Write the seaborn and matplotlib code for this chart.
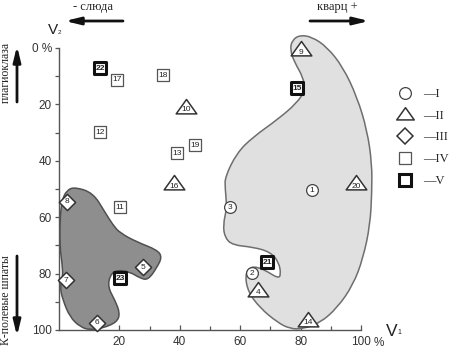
import numpy as np
import pandas as pd
import matplotlib
matplotlib.use("Agg")
import matplotlib.pyplot as plt
import seaborn as sns
from matplotlib.path import Path
from matplotlib.patches import PathPatch
from matplotlib.lines import Line2D

# ---- data ----
point_ids = [1, 2, 3, 4, 5, 6, 7, 8, 9, 10, 11, 12, 13, 14, 15, 16, 17, 18, 19, 20, 21, 22, 23]
v1_values = [83.8, 63.9, 56.6, 65.9, 27.9, 12.5, 2.3, 2.6, 80.0, 42.0, 20.2, 13.6, 39.0, 82.5,
             78.8, 38.0, 19.2, 34.4, 45.0, 98.3, 68.9, 13.6, 20.2]
v2_values = [50.4, 79.8, 56.4, 85.8, 77.7, 97.5, 82.3, 54.6, 0.5, 21.0, 56.4, 29.8, 37.4, 96.5,
             14.2, 48.0, 11.3, 9.6, 34.4, 48.0, 75.9, 7.1, 81.6]
groups = ["I", "I", "I", "II", "III", "III", "III", "III", "II", "II", "IV", "IV", "IV", "II",
          "V", "II", "IV", "IV", "IV", "II", "V", "V", "V"]
group_order = ["I", "II", "III", "IV", "V"]
legend_labels = ["—I", "—II", "—III", "—IV", "—V"]

# outlines of the two fields (V1, V2 in %)
dark_field_v1 = [5.3, 11.3, 15.2, 17.9, 20.2, 25.8, 32.5, 34.1, 32.5, 29.5, 26.8, 23.5, 19.2, 16.9,
                 16.2, 18.5, 20.2, 19.2, 14.6, 10.3, 7.0, 3.6, 1.3, 0.3, 1.3, 1.0, 0.3, 0.3, 1.0, 2.6]
dark_field_v2 = [49.3, 51.4, 58.2, 62.8, 65.6, 68.8, 71.6, 74.1, 77.7, 82.3, 81.6, 79.4, 78.7, 80.5,
                 84.8, 89.4, 94.0, 97.2, 99.3, 100.0, 98.9, 95.4, 89.4, 84.8, 81.2, 76.2, 70.6, 61.0, 53.9, 50.4]
light_field_v1 = [79.8, 83.8, 88.7, 94.0, 98.7, 102.0, 103.6, 103.6, 103.0, 100.7, 97.4, 92.1, 86.4,
                  80.8, 76.5, 72.2, 66.6, 62.6, 61.6, 63.2, 65.9, 69.2, 72.5, 73.5, 72.8, 69.9, 64.2,
                  57.6, 55.0, 54.3, 55.6, 55.0, 55.0, 58.9, 64.2, 72.2, 78.8, 81.5, 80.8, 78.1, 76.5, 77.2]
light_field_v2 = [-4.6, -3.9, -0.4, 6.7, 17.4, 29.1, 40.8, 51.1, 62.8, 74.5, 84.0, 92.2, 97.5,
                  99.6, 99.6, 97.2, 92.2, 86.5, 80.5, 77.7, 77.7, 79.4, 81.6, 80.5, 75.9, 72.3, 70.6,
                  69.9, 67.4, 62.8, 56.7, 49.6, 45.7, 37.2, 31.6, 25.5, 19.5, 14.9, 10.3, 5.3, 0.7, -2.8]

x_ticks = [20, 40, 60, 80, 100]
x_tick_labels = ["20", "40", "60", "80", "100"]
y_ticks = [0, 20, 40, 60, 80, 100]
y_tick_labels = ["0 %", "20", "40", "60", "80", "100"]

df = pd.DataFrame({"id": point_ids, "V1": v1_values, "V2": v2_values, "group": groups})

# ---- style ----
sns.set_style("ticks")
plt.rcParams['font.family'] = ['Liberation Sans', 'DejaVu Sans']
SERIF = ['Liberation Serif', 'DejaVu Serif']

W, H = 450, 350
fig = plt.figure(figsize=(4.5, 3.5), dpi=100)
ax = fig.add_axes([59 / W, 20 / H, 302 / W, 282 / H])


def fx(px):
    return px / W


def fy(py):
    return 1 - py / H


def smooth_patch(xs, ys, **kw):
    pts = np.column_stack([xs, ys])
    n = len(pts)
    mids = (pts + np.roll(pts, -1, axis=0)) / 2
    verts = [mids[-1]]
    codes = [Path.MOVETO]
    for i in range(n):
        verts += [pts[i], mids[i]]
        codes += [Path.CURVE3, Path.CURVE3]
    verts.append(mids[-1])
    codes.append(Path.CLOSEPOLY)
    return PathPatch(Path(verts, codes), **kw)


ax.add_patch(smooth_patch(light_field_v1, light_field_v2, facecolor="#e0e0e0",
                          edgecolor="#6e6e6e", lw=1.1, clip_on=False, zorder=1))
ax.add_patch(smooth_patch(dark_field_v1, dark_field_v2, facecolor="#8e8e8e",
                          edgecolor="#505050", lw=1.1, clip_on=False, zorder=1))

tri = Path([(-1, -0.62), (1, -0.62), (0, 0.78), (-1, -0.62)],
           [Path.MOVETO, Path.LINETO, Path.LINETO, Path.CLOSEPOLY])
styles = {
    "I": dict(marker="o", s=72, linewidth=0.9, edgecolor="#444444"),
    "II": dict(marker=tri, s=220, linewidth=1.1, edgecolor="#333333"),
    "III": dict(marker="D", s=68, linewidth=1.1, edgecolor="#333333"),
    "IV": dict(marker="s", s=80, linewidth=0.9, edgecolor="#555555"),
    "V": dict(marker="s", s=80, linewidth=2.2, edgecolor="#111111"),
}

for g in group_order:
    sub = df[df["group"] == g]
    sns.scatterplot(data=sub, x="V1", y="V2", ax=ax, facecolor="white", legend=False,
                    zorder=3, clip_on=False, **styles[g])

for _, r in df.iterrows():
    dy = -2.0 if r["group"] == "II" else 0
    ax.annotate(str(r["id"]), (r["V1"], r["V2"]), xytext=(0, dy), textcoords="offset points",
                ha="center", va="center", fontsize=6, color="#222222", zorder=4,
                fontweight="bold" if r["group"] == "V" else "normal", annotation_clip=False)

ax.set_xlim(0, 100)
ax.set_ylim(100, 0)
ax.set_xticks(x_ticks)
ax.set_xticklabels(x_tick_labels)
ax.set_yticks(y_ticks)
ax.set_yticklabels(y_tick_labels)
ax.set_xticks([10, 30, 50, 70, 90], minor=True)
ax.set_yticks([10, 30, 50, 70, 90], minor=True)
ax.tick_params(axis="x", direction="in", length=3.5, width=0.9, color="#555555",
               labelsize=8.5, labelcolor="#333333", pad=4)
ax.tick_params(axis="x", which="minor", direction="in", length=3, width=0.9, color="#555555")
ax.tick_params(axis="y", direction="out", length=3, width=0.9, color="#555555",
               labelsize=8.5, labelcolor="#333333", pad=2)
ax.tick_params(axis="y", which="minor", direction="out", length=3, width=0.9, color="#555555")
ax.set_xlabel("")
ax.set_ylabel("")
sns.despine(ax=ax)
for sp in ["left", "bottom"]:
    ax.spines[sp].set_color("#555555")
    ax.spines[sp].set_linewidth(1.0)

fig.text(fx(374), fy(343), "%", fontsize=8.5, color="#333333", ha="left", va="center")

# legend
handles = []
for g in group_order:
    st = styles[g]
    ms = np.sqrt(st["s"]) * (0.85 if g == "II" else 1.0)
    handles.append(Line2D([], [], linestyle="none", marker=st["marker"], markersize=ms,
                          markerfacecolor="white", markeredgecolor=st["edgecolor"],
                          markeredgewidth=st["linewidth"]))
ax.legend(handles, legend_labels, loc="upper left", bbox_to_anchor=(fx(397), fy(88)),
          bbox_transform=fig.transFigure, frameon=False, borderpad=0, borderaxespad=0,
          handlelength=1.2, handletextpad=0.9, labelspacing=0.78,
          prop={"family": SERIF, "size": 9})

# axis names
fig.text(fx(48), fy(30), "V", fontsize=11, ha="left", va="center", color="#222222")
fig.text(fx(57.5), fy(33), "2", fontsize=4.5, ha="left", va="center", color="#222222")
fig.text(fx(386), fy(332), "V", fontsize=12.5, ha="left", va="center", color="#222222")
fig.text(fx(397), fy(333), "1", fontsize=5, ha="left", va="center", color="#222222")

# top labels and arrows
fig.text(fx(93), fy(7), "- слюда", fontsize=9, family=SERIF, ha="center", va="center", color="#222222")
fig.text(fx(337), fy(7), "кварц +", fontsize=9, family=SERIF, ha="center", va="center", color="#222222")
arrow = dict(arrowstyle="-|>,head_length=0.9,head_width=0.22", color="#111111", lw=2.0,
             mutation_scale=10, shrinkA=0, shrinkB=0)
ax.annotate("", xy=(fx(65), fy(21)), xytext=(fx(123), fy(21)), xycoords="figure fraction",
            textcoords="figure fraction", arrowprops=arrow, annotation_clip=False)
ax.annotate("", xy=(fx(369), fy(21)), xytext=(fx(310), fy(21)), xycoords="figure fraction",
            textcoords="figure fraction", arrowprops=arrow, annotation_clip=False)

# left labels and arrows
fig.text(fx(6), fy(72), "плагиоклаза", fontsize=8.5, family=SERIF, rotation=90,
         ha="center", va="center", color="#222222")
fig.text(fx(6), fy(300), "К-полевые шпаты", fontsize=8.5, family=SERIF, rotation=90,
         ha="center", va="center", color="#222222")
ax.annotate("", xy=(fx(17), fy(46)), xytext=(fx(17), fy(102)), xycoords="figure fraction",
            textcoords="figure fraction", arrowprops=arrow, annotation_clip=False)
ax.annotate("", xy=(fx(17), fy(336)), xytext=(fx(17), fy(256)), xycoords="figure fraction",
            textcoords="figure fraction", arrowprops=arrow, annotation_clip=False)

fig.savefig("out.png", dpi=100)
